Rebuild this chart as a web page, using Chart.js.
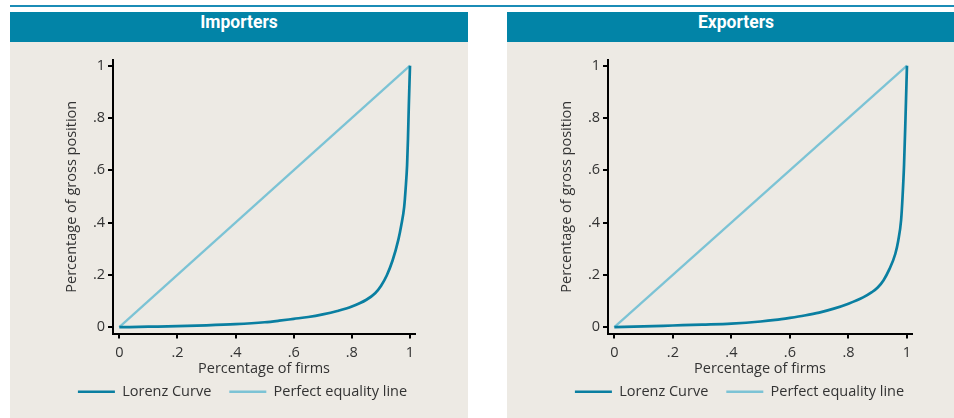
<!DOCTYPE html>
<html>
<head>
<meta charset="utf-8">
<script src="https://cdn.jsdelivr.net/npm/chart.js@4.4.1/dist/chart.umd.min.js"></script>
<style>
    html, body { margin: 0; padding: 0; background: #fff; width: 954px; height: 418px; overflow: hidden; }
    .rule { position: absolute; left: 10px; top: 5px; width: 944px; height: 2px; background: #1b8cb6; }
    .panel { position: absolute; top: 12px; width: 458px; height: 406px; background: #edeae4; }
    .panel h2 {
        margin: 0; height: 30px; line-height: 31px; background: #0284a7; color: #fff;
        text-align: center; font: bold 17.5px Roboto, "Open Sans", sans-serif;
    }
    .panel canvas { display: block; }
</style>
</head>
<body>
<div class="rule"></div>
<div class="panel" style="left:10px"><h2 id="title-0"></h2><canvas id="chart-0" width="458" height="376"></canvas></div>
<div class="panel" style="left:507px"><h2 id="title-1"></h2><canvas id="chart-1" width="458" height="376"></canvas></div>
<script>
// Panel titles
const panelTitles = ['Importers', 'Exporters'];

// Lorenz curves (share of firms -> share of gross position)
const importersX = [0, 0.1, 0.2, 0.3, 0.4, 0.5, 0.55, 0.6, 0.65, 0.7, 0.75, 0.8, 0.85, 0.88, 0.9, 0.92, 0.94, 0.96, 0.97, 0.98, 0.985, 0.99, 0.993, 0.996, 1];
const importersY = [0, 0.002, 0.004, 0.007, 0.0115, 0.019, 0.025, 0.032, 0.039, 0.049, 0.062, 0.079, 0.105, 0.13, 0.158, 0.198, 0.255, 0.335, 0.39, 0.46, 0.53, 0.62, 0.72, 0.85, 1];

const exportersX = [0, 0.1, 0.2, 0.3, 0.4, 0.5, 0.55, 0.6, 0.65, 0.7, 0.75, 0.8, 0.85, 0.88, 0.9, 0.92, 0.94, 0.96, 0.97, 0.98, 0.985, 0.99, 0.995, 1];
const exportersY = [0, 0.003, 0.0065, 0.01, 0.014, 0.022, 0.028, 0.036, 0.045, 0.056, 0.071, 0.09, 0.114, 0.134, 0.152, 0.18, 0.222, 0.28, 0.33, 0.41, 0.5, 0.62, 0.8, 1];

// Perfect equality line
const equalityX = [0, 1];
const equalityY = [0, 1];

// Axis ticks
const tickValues = [0, 0.2, 0.4, 0.6, 0.8, 1];
const tickLabels = ['0', '.2', '.4', '.6', '.8', '1'];

const seriesLabels = ['Lorenz Curve', 'Perfect equality line'];
const xTitle = 'Percentage of firms';
const yTitle = 'Percentage of gross position';

const lorenzColor = '#0a7fa1';
const equalityColor = '#7cc3d5';

Chart.defaults.font.family = '"Open Sans", sans-serif';
Chart.defaults.font.size = 14.5;
Chart.defaults.color = '#333';

function toPoints(xs, ys) {
    return xs.map((x, i) => ({ x: x, y: ys[i] }));
}

// move the legend sideways, the reference centres it on a wider area
const legendShift = {
    id: 'legendShift',
    afterLayout(chart, args, opts) {
        chart.legend.left += opts.dx;
        chart.legend.right += opts.dx;
    }
};

function makeAxis(title, width, height, titlePadding) {
    return {
        type: 'linear',
        min: -0.0217,
        max: 1.0172,
        afterBuildTicks: axis => { axis.ticks = tickValues.map(v => ({ value: v })); },
        afterFit: scale => {
            if (width) scale.width = width;
            if (height) scale.height = height;
        },
        ticks: {
            padding: width ? 3 : 6,
            color: '#333',
            callback: (value, index) => tickLabels[index]
        },
        grid: {
            drawOnChartArea: false,
            drawTicks: true,
            tickLength: 5,
            color: '#000',
            lineWidth: 2
        },
        border: { display: true, color: '#000', width: 2 },
        title: {
            display: true,
            text: title,
            color: '#333',
            font: { size: 14.5, lineHeight: 1.2 },
            padding: titlePadding
        }
    };
}

function drawPanel(i, xs, ys, yAxisWidth) {
    document.getElementById('title-' + i).textContent = panelTitles[i];
    const yAxis = makeAxis(yTitle, yAxisWidth, null, { top: yAxisWidth - 49.7, bottom: 0 });
    yAxis.min = -0.024;
    yAxis.max = 1.0218;
    const ctx = document.getElementById('chart-' + i).getContext('2d');
    new Chart(ctx, {
        type: 'line',
        data: {
            datasets: [{
                label: seriesLabels[0],
                data: toPoints(xs, ys),
                borderColor: lorenzColor,
                backgroundColor: lorenzColor,
                borderWidth: 2.7,
                pointRadius: 0,
                cubicInterpolationMode: 'monotone'
            }, {
                label: seriesLabels[1],
                data: toPoints(equalityX, equalityY),
                borderColor: equalityColor,
                backgroundColor: equalityColor,
                borderWidth: 2.3,
                pointRadius: 0
            }]
        },
        options: {
            responsive: false,
            animation: false,
            devicePixelRatio: 1,
            layout: { padding: { top: 18, right: 53, bottom: 9, left: 0 } },
            plugins: {
                legend: {
                    position: 'bottom',
                    labels: {
                        usePointStyle: true,
                        pointStyle: 'line',
                        pointStyleWidth: 37,
                        padding: 18,
                        color: '#333',
                        font: { size: 14.5 }
                    }
                },
                legendShift: { dx: 30 },
                tooltip: { enabled: false }
            },
            scales: {
                x: makeAxis(xTitle, null, 33, { top: 0, bottom: -11 }),
                y: yAxis
            }
        },
        plugins: [legendShift]
    });
}

drawPanel(0, importersX, importersY, 103);
drawPanel(1, exportersX, exportersY, 101);
</script>
</body>
</html>
